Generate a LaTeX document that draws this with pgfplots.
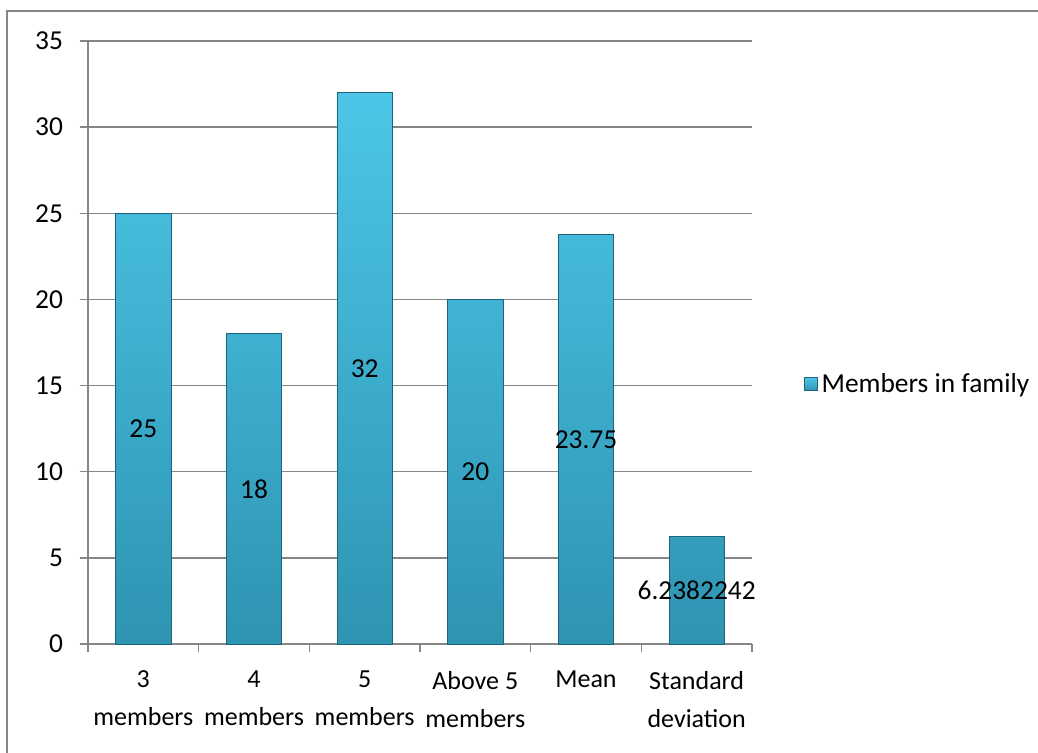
\documentclass[border=0pt]{standalone}
\usepackage{pgfplots}
\pgfplotsset{compat=1.18}
\usepackage{fontspec}
\setmainfont{Carlito}
\definecolor{bartop}{RGB}{76,198,232}
\definecolor{barmid}{RGB}{62,184,218}
\definecolor{barbot}{RGB}{46,148,178}
\definecolor{baredge}{RGB}{30,100,125}
\definecolor{gridgray}{RGB}{134,134,134}
\begin{document}
\begin{tikzpicture}[x=1pt,y=1pt]
\useasboundingbox (0,0) rectangle (519,376.5);
\draw[gridgray, line width=1pt] (3.5,0) -- (3.5,371) -- (519,371);
\begin{axis}[
  at={(44pt,54.5pt)}, anchor=south west,
  scale only axis, width=332pt, height=301.5pt,
  xmin=-0.5, xmax=5.5, ymin=0, ymax=35,
  ytick={0,5,...,35},
  xtick={0,1,2,3,4,5},
  xticklabels={3\\members, 4\\members, 5\\members, Above 5\\members, Mean, Standard\\deviation},
  minor xtick={-0.5,0.5,...,5.5},
  tick align=outside,
  xtick pos=bottom, ytick pos=left,
  major tick length=4pt, minor tick length=4pt,
  major x tick style={draw=none},
  minor x tick style={draw=gridgray, line width=0.75pt},
  ytick style={draw=gridgray, line width=0.75pt},
  ymajorgrids,
  major grid style={draw=gridgray, line width=0.75pt},
  axis x line*=bottom, axis y line*=left,
  axis line style={draw=gridgray, line width=0.75pt, -},
  /pgf/number format/assume math mode=true,
  tick label style={font=\fontsize{13.7}{19}\selectfont, text=black},
  yticklabel style={xshift=-5pt},
  xticklabel style={align=center, yshift=-6pt, font=\fontsize{13}{19}\selectfont},
  legend style={at={(1.078,0.431)}, anchor=west, draw=none, fill=none,
    font=\fontsize{13.7}{16}\selectfont, inner sep=0pt},
  legend cell align=left,
  clip=false,
]
\addplot[ybar, bar width=0.5, top color=bartop, middle color=barmid, bottom color=barbot,
  draw=baredge, line width=0.4pt,
  legend image code/.code={\fill[top color=bartop, bottom color=barbot, draw=baredge, line width=0.3pt] (0pt,-3.2pt) rectangle (6.4pt,3.2pt);}]
  coordinates {(0,25) (1,18) (2,32) (3,20) (4,23.75) (5,6.2382242)};
\addlegendentry{Members in family}
\addplot[only marks, mark=none, forget plot,
  nodes near coords, point meta=explicit symbolic,
  every node near coord/.append style={anchor=center, font=\fontsize{13.7}{16}\selectfont, text=black}]
  coordinates {(0,12.5)[25] (1,9)[18] (2,16)[32] (3,10)[20] (4,11.875)[23.75] (5,3.12)[6.2382242]};
\end{axis}
\end{tikzpicture}
\end{document}
